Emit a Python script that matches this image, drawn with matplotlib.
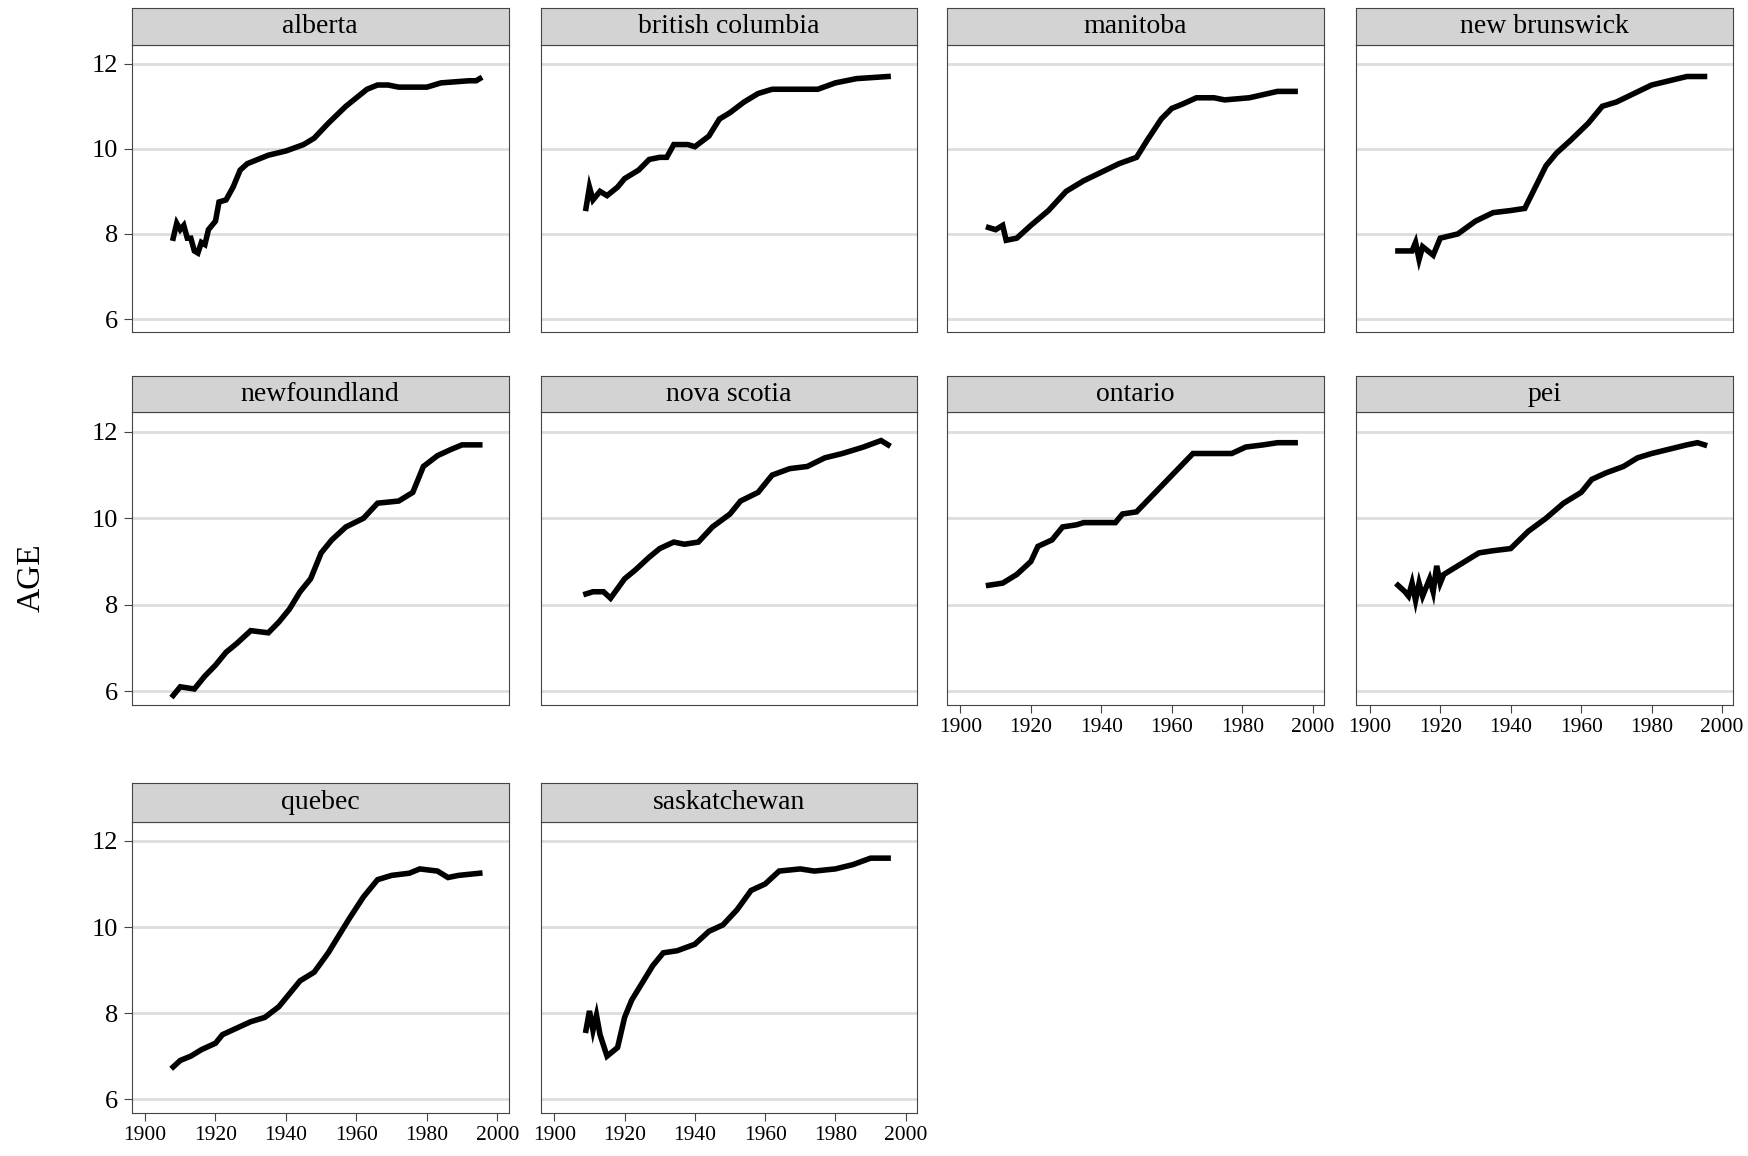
import matplotlib.pyplot as plt

plt.rcParams['font.family'] = ['Liberation Serif', 'DejaVu Serif']

provinces = ['alberta', 'british columbia', 'manitoba', 'new brunswick',
             'newfoundland', 'nova scotia', 'ontario', 'pei',
             'quebec', 'saskatchewan']

alberta = [(1908, 7.9), (1909, 8.25), (1910, 8.1), (1911, 8.2), (1912, 7.9), (1913, 7.9), (1914, 7.6),
           (1915, 7.55), (1916, 7.8), (1917, 7.75), (1918, 8.1), (1920, 8.3), (1921, 8.75), (1923, 8.8),
           (1925, 9.1), (1927, 9.5), (1929, 9.65), (1932, 9.75), (1935, 9.85), (1940, 9.95), (1945, 10.1),
           (1948, 10.25), (1952, 10.6), (1957, 11.0), (1960, 11.2), (1963, 11.4), (1966, 11.5), (1969, 11.5),
           (1972, 11.45), (1980, 11.45), (1984, 11.55), (1992, 11.6), (1994, 11.6), (1995, 11.65)]
british_columbia = [(1909, 8.6), (1910, 9.1), (1911, 8.8), (1913, 9.0), (1915, 8.9), (1918, 9.1), (1920, 9.3),
                    (1922, 9.4), (1924, 9.5), (1927, 9.75), (1930, 9.8), (1932, 9.8), (1934, 10.1), (1938, 10.1),
                    (1940, 10.05), (1944, 10.3), (1947, 10.7), (1950, 10.85), (1954, 11.1), (1958, 11.3),
                    (1962, 11.4), (1975, 11.4), (1980, 11.55), (1986, 11.65), (1995, 11.7)]
manitoba = [(1908, 8.15), (1910, 8.1), (1912, 8.2), (1913, 7.85), (1916, 7.9), (1920, 8.2), (1925, 8.55),
            (1930, 9.0), (1935, 9.25), (1940, 9.45), (1945, 9.65), (1950, 9.8), (1953, 10.2), (1957, 10.7),
            (1960, 10.95), (1963, 11.05), (1967, 11.2), (1972, 11.2), (1975, 11.15), (1982, 11.2),
            (1990, 11.35), (1995, 11.35)]
new_brunswick = [(1908, 7.6), (1912, 7.6), (1913, 7.8), (1914, 7.4), (1915, 7.7), (1918, 7.5), (1920, 7.9),
                 (1925, 8.0), (1930, 8.3), (1935, 8.5), (1940, 8.55), (1944, 8.6), (1947, 9.1), (1950, 9.6),
                 (1953, 9.9), (1957, 10.2), (1962, 10.6), (1966, 11.0), (1970, 11.1), (1975, 11.3),
                 (1980, 11.5), (1985, 11.6), (1990, 11.7), (1995, 11.7)]
newfoundland = [(1908, 5.9), (1910, 6.1), (1914, 6.05), (1917, 6.35), (1920, 6.6), (1923, 6.9), (1926, 7.1),
                (1930, 7.4), (1935, 7.35), (1938, 7.6), (1941, 7.9), (1944, 8.3), (1947, 8.6), (1950, 9.2),
                (1953, 9.5), (1957, 9.8), (1962, 10.0), (1966, 10.35), (1972, 10.4), (1976, 10.6),
                (1979, 11.2), (1983, 11.45), (1987, 11.6), (1990, 11.7), (1995, 11.7)]
nova_scotia = [(1909, 8.25), (1911, 8.3), (1914, 8.3), (1916, 8.15), (1920, 8.6), (1923, 8.8), (1927, 9.1),
               (1930, 9.3), (1934, 9.45), (1937, 9.4), (1941, 9.45), (1945, 9.8), (1950, 10.1), (1953, 10.4),
               (1958, 10.6), (1962, 11.0), (1967, 11.15), (1972, 11.2), (1977, 11.4), (1982, 11.5),
               (1988, 11.65), (1993, 11.8), (1995, 11.7)]
ontario = [(1908, 8.45), (1912, 8.5), (1916, 8.7), (1920, 9.0), (1922, 9.35), (1926, 9.5), (1929, 9.8),
           (1933, 9.85), (1935, 9.9), (1944, 9.9), (1946, 10.1), (1950, 10.15), (1966, 11.5), (1977, 11.5),
           (1981, 11.65), (1986, 11.7), (1990, 11.75), (1995, 11.75)]
pei = [(1908, 8.45), (1910, 8.3), (1911, 8.2), (1912, 8.5), (1913, 8.1), (1914, 8.5), (1915, 8.2), (1917, 8.6),
       (1918, 8.3), (1919, 8.9), (1920, 8.5), (1921, 8.7), (1924, 8.85), (1927, 9.0), (1931, 9.2), (1935, 9.25),
       (1940, 9.3), (1945, 9.7), (1950, 10.0), (1955, 10.35), (1960, 10.6), (1963, 10.9), (1967, 11.05),
       (1972, 11.2), (1976, 11.4), (1980, 11.5), (1985, 11.6), (1990, 11.7), (1993, 11.75), (1995, 11.7)]
quebec = [(1908, 6.75), (1910, 6.9), (1913, 7.0), (1916, 7.15), (1920, 7.3), (1922, 7.5), (1926, 7.65),
          (1930, 7.8), (1934, 7.9), (1938, 8.15), (1941, 8.45), (1944, 8.75), (1948, 8.95), (1952, 9.4),
          (1955, 9.8), (1958, 10.2), (1962, 10.7), (1966, 11.1), (1970, 11.2), (1975, 11.25), (1978, 11.35),
          (1983, 11.3), (1986, 11.15), (1989, 11.2), (1995, 11.25)]
saskatchewan = [(1909, 7.6), (1910, 8.05), (1911, 7.6), (1912, 7.95), (1913, 7.5), (1915, 7.0), (1918, 7.2),
                (1920, 7.9), (1922, 8.3), (1925, 8.7), (1928, 9.1), (1931, 9.4), (1935, 9.45), (1940, 9.6),
                (1944, 9.9), (1948, 10.05), (1952, 10.4), (1956, 10.85), (1960, 11.0), (1964, 11.3),
                (1970, 11.35), (1974, 11.3), (1980, 11.35), (1985, 11.45), (1990, 11.6), (1995, 11.6)]

series = [alberta, british_columbia, manitoba, new_brunswick, newfoundland,
          nova_scotia, ontario, pei, quebec, saskatchewan]

W, H = 1568.0, 1037.0
fig = plt.figure(figsize=(17.49, 11.56), dpi=100)
col_l = [118, 485, 849, 1216]
col_r = [456, 822, 1187, 1554]
row_strip = [7, 337, 702]
row_top = [40, 370, 737]
row_bot = [298, 632, 998]
bottom_panels = {6, 7, 8, 9}

for i, (name, data) in enumerate(zip(provinces, series)):
    r, c = divmod(i, 4)
    ax = fig.add_axes([col_l[c] / W, 1 - row_bot[r] / H,
                       (col_r[c] - col_l[c]) / W, (row_bot[r] - row_top[r]) / H])
    xs = [p[0] for p in data]
    ys = [p[1] for p in data]
    ax.plot(xs, ys, color='black', lw=4, solid_joinstyle='miter')
    ax.set_xlim(1896.2, 2003.2)
    ax.set_ylim(5.69, 12.45)
    ax.set_yticks([6, 8, 10, 12])
    ax.set_xticks([1900, 1920, 1940, 1960, 1980, 2000])
    ax.grid(axis='y', color='#dddddd', lw=2)
    ax.set_axisbelow(True)
    for s in ax.spines.values():
        s.set_color('#444444')
        s.set_linewidth(0.8)
    ax.tick_params(labelsize=19, direction='out', length=6, color='#444444')
    if c != 0:
        ax.tick_params(axis='y', left=False, labelleft=False)
    if i not in bottom_panels:
        ax.tick_params(axis='x', bottom=False, labelbottom=False)
    else:
        ax.tick_params(axis='x', labelsize=15.5)
    sax = fig.add_axes([col_l[c] / W, 1 - row_top[r] / H,
                        (col_r[c] - col_l[c]) / W, (row_top[r] - row_strip[r]) / H])
    sax.set_facecolor('#d3d3d3')
    sax.set_xticks([])
    sax.set_yticks([])
    for s in sax.spines.values():
        s.set_color('#444444')
    sax.text(0.5, 0.5, name, ha='center', va='center', fontsize=20, transform=sax.transAxes)

fig.text(28 / W, 0.5, 'AGE', rotation=90, ha='center', va='center', fontsize=24)
fig.savefig('out.png', dpi=100)
